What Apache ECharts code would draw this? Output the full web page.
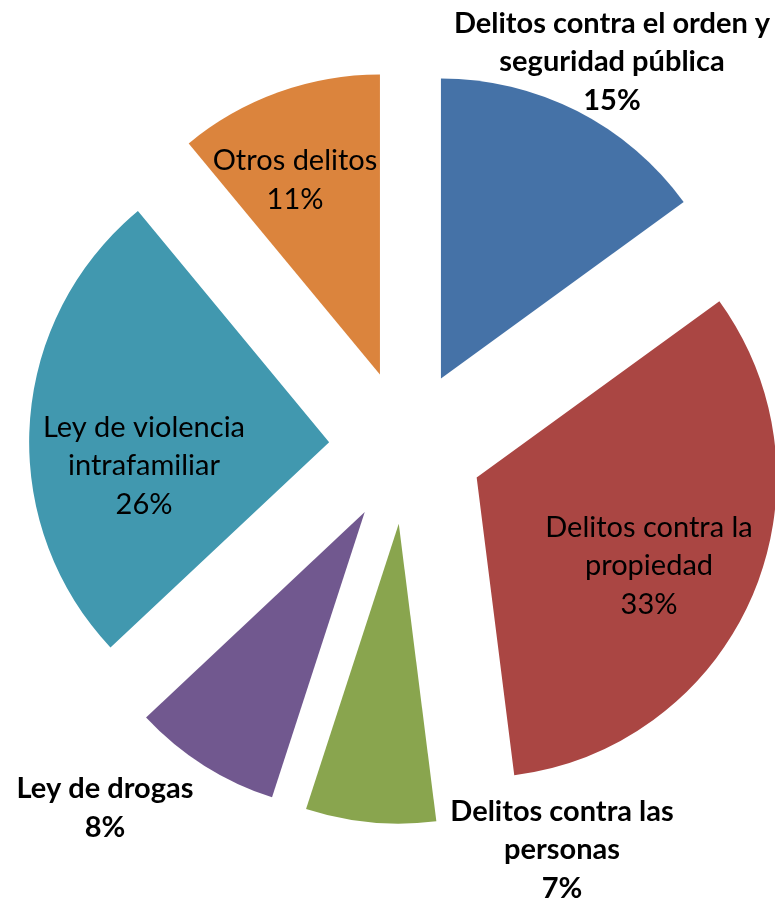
<!DOCTYPE html>
<html>
<head>
<meta charset="utf-8">
<script src="https://cdn.jsdelivr.net/npm/echarts@6/dist/echarts.min.js"></script>
<style>
html,body{margin:0;padding:0;background:#fff;}
#chart{width:775px;height:900px;}
</style>
</head>
<body>
<div id="chart"></div>
<script>
// Data
var categories = [
  'Delitos contra el orden y\nseguridad pública',
  'Delitos contra la\npropiedad',
  'Delitos contra las\npersonas',
  'Ley de drogas',
  'Ley de violencia\nintrafamiliar',
  'Otros delitos'
];
var values = [15, 33, 7, 8, 26, 11];

// Styling (not data)
var colors = ['#4572A7', '#AA4643', '#89A54E', '#71588F', '#4198AF', '#DB843D'];
var boldLabel = [true, false, true, true, false, false];
var labelPos = [
  [612, 62], [649, 566], [562, 850], [105, 808], [144, 466], [295, 180]
];

var chart = echarts.init(document.getElementById('chart'));

var sliceData = categories.map(function (c, i) {
  return { name: c, value: values[i], selected: true, itemStyle: { color: colors[i] } };
});
var labelData = categories.map(function (c, i) {
  return {
    name: c,
    value: values[i],
    label: { fontWeight: boldLabel[i] ? 'bold' : 'normal' }
  };
});

var common = {
  type: 'pie',
  center: [406, 447],
  radius: 300,
  startAngle: 90,
  clockwise: true,
  emphasis: { scale: false },
  labelLine: { show: false }
};

chart.setOption({
  animation: false,
  backgroundColor: '#ffffff',
  series: [
    Object.assign({}, common, {
      selectedMode: 'multiple',
      selectedOffset: 77,
      itemStyle: { borderWidth: 0 },
      label: { show: false },
      data: sliceData
    }),
    Object.assign({}, common, {
      silent: true,
      z: 5,
      avoidLabelOverlap: false,
      itemStyle: { color: 'rgba(0,0,0,0)', borderWidth: 0 },
      label: {
        show: true,
        position: 'inside',
        formatter: '{b}\n{d}%',
        fontFamily: 'Lato',
        fontSize: 29,
        lineHeight: 38.5,
        color: '#000',
        align: 'center'
      },
      labelLayout: function (params) {
        var p = labelPos[params.dataIndex];
        return { x: p[0], y: p[1], align: 'center', verticalAlign: 'middle' };
      },
      data: labelData
    })
  ]
});
</script>
</body>
</html>
